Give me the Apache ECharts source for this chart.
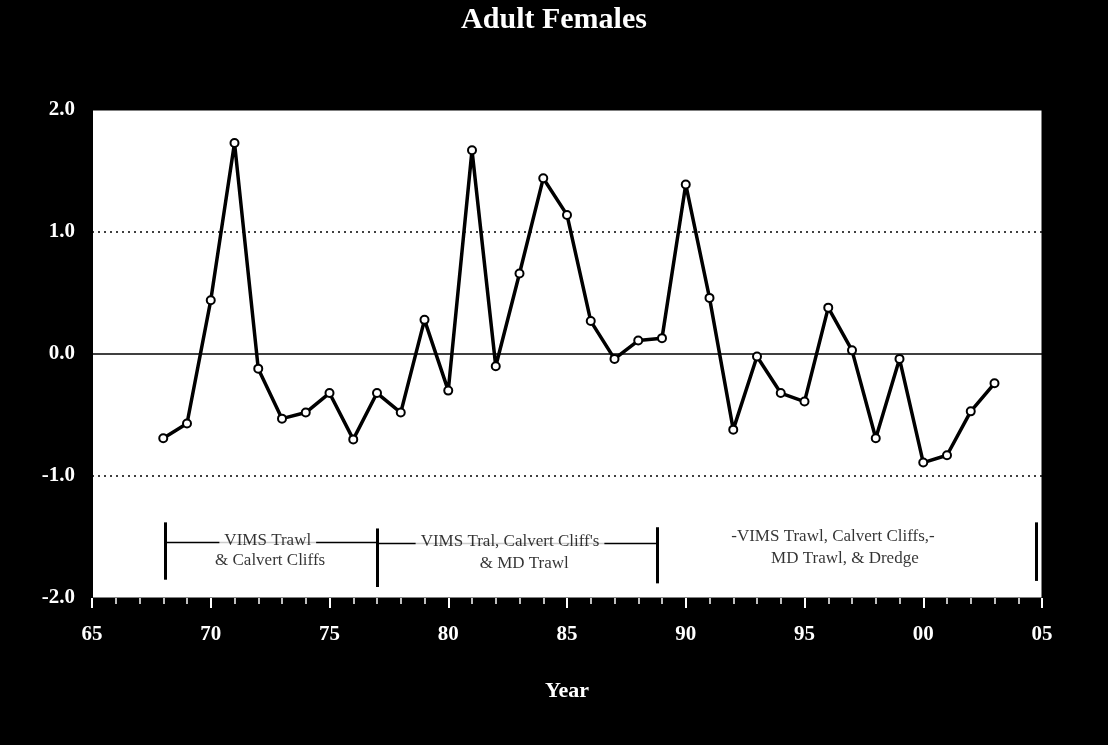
<!DOCTYPE html>
<html>
<head>
<meta charset="utf-8">
<script src="https://cdn.jsdelivr.net/npm/echarts@6/dist/echarts.min.js"></script>
<style>
html,body{margin:0;padding:0;background:#000;}
#chart{width:1108px;height:745px;}
</style>
</head>
<body>
<div id="chart"></div>
<script>
const years = [68,69,70,71,72,73,74,75,76,77,78,79,80,81,82,83,84,85,86,87,88,89,90,91,92,93,94,95,96,97,98,99,100,101,102,103];
const values = [-0.69,-0.57,0.44,1.73,-0.12,-0.53,-0.48,-0.32,-0.70,-0.32,-0.48,0.28,-0.30,1.67,-0.10,0.66,1.44,1.14,0.27,-0.04,0.11,0.13,1.39,0.46,-0.62,-0.02,-0.32,-0.39,0.38,0.03,-0.69,-0.04,-0.89,-0.83,-0.47,-0.24];
const titleText = 'Adult Females';
const xName = 'Year';
// period separators (year positions) and annotation texts
const periodBars = [68.1, 77.0, 88.8, 104.75];
const periodText = [
  {x:72.4, y:-1.53, t:'VIMS Trawl'},
  {x:72.5, y:-1.69, t:'& Calvert Cliffs'},
  {x:82.6, y:-1.54, t:'VIMS Tral, Calvert Cliff\'s'},
  {x:83.2, y:-1.72, t:'& MD Trawl'},
  {x:96.2, y:-1.50, t:'-VIMS Trawl, Calvert Cliffs,-'},
  {x:96.7, y:-1.68, t:'MD Trawl, & Dredge'}
];
const connectors = [[68.1, 77.0, -1.54], [77.0, 88.8, -1.55]];
const dottedLevels = [1, -1];

const serif = '"Liberation Serif","DejaVu Serif",serif';
const chart = echarts.init(document.getElementById('chart'));
const barLines = [
  [{coord:[periodBars[0],-1.38]},{coord:[periodBars[0],-1.85]}],
  [{coord:[periodBars[1],-1.43]},{coord:[periodBars[1],-1.91]}],
  [{coord:[periodBars[2],-1.42]},{coord:[periodBars[2],-1.88]}],
  [{coord:[periodBars[3],-1.38]},{coord:[periodBars[3],-1.86]}]
];
const connLines = connectors.map(c => [{coord:[c[0],c[2]], lineStyle:{width:1.3}},{coord:[c[1],c[2]]}]);

chart.setOption({
  backgroundColor:'#000',
  animation:false,
  title:{text:titleText,left:'center',top:0,textStyle:{color:'#fff',fontFamily:serif,fontWeight:'bold',fontSize:30}},
  grid:{left:92,right:66,top:110,bottom:147,show:true,backgroundColor:'#fff',borderColor:'#000',borderWidth:1},
  xAxis:{
    type:'value',min:65,max:105,interval:5,
    name:xName,nameLocation:'middle',nameGap:82,
    nameTextStyle:{color:'#fff',fontFamily:serif,fontWeight:'bold',fontSize:22},
    axisLine:{show:true,onZero:false,lineStyle:{color:'#000',width:1}},
    axisTick:{show:true,inside:false,length:10,lineStyle:{color:'#ffffff',width:2}},
    minorTick:{show:true,splitNumber:5,length:6,lineStyle:{color:'#ffffff',width:1.5}},
    splitLine:{show:false},
    axisLabel:{color:'#fff',fontFamily:serif,fontWeight:'bold',fontSize:21,margin:26,
      formatter:v=>String(Math.round(v)%100).padStart(2,'0')}
  },
  yAxis:{
    type:'value',min:-2,max:2,interval:1,
    axisLine:{show:true,lineStyle:{color:'#000',width:1}},
    axisTick:{show:false},
    splitLine:{show:false},
    axisLabel:{color:'#fff',fontFamily:serif,fontWeight:'bold',fontSize:21,margin:17,
      formatter:v=>v.toFixed(1)}
  },
  series:[
    {
      type:'line',
      data:years.map((y,i)=>[y,values[i]]),
      lineStyle:{color:'#000',width:3.5},
      symbol:'emptyCircle',symbolSize:8,
      itemStyle:{color:'#000',borderColor:'#000',borderWidth:1.5},
      z:6,
      markLine:{
        silent:true,symbol:'none',label:{show:false},
        lineStyle:{color:'#000',type:'solid',width:1.5},
        data:[{yAxis:0}].concat(dottedLevels.map(v=>({yAxis:v,lineStyle:{type:[2,4],width:1.5}})))
      }
    },
    {
      type:'line',
      data:[],
      z:2,
      markLine:{
        silent:true,symbol:'none',label:{show:false},
        lineStyle:{color:'#000',type:'solid',width:3},
        data:barLines.concat(connLines)
      }
    },
    {
      type:'scatter',
      data:periodText.map(p=>({value:[p.x,p.y],label:{formatter:p.t}})),
      symbolSize:1,
      itemStyle:{color:'rgba(0,0,0,0)'},
      label:{show:true,position:'inside',color:'#000',fontFamily:serif,fontSize:17,
        backgroundColor:'#fff',padding:[0,5]},
      z:10
    }
  ]
});
</script>
</body>
</html>
